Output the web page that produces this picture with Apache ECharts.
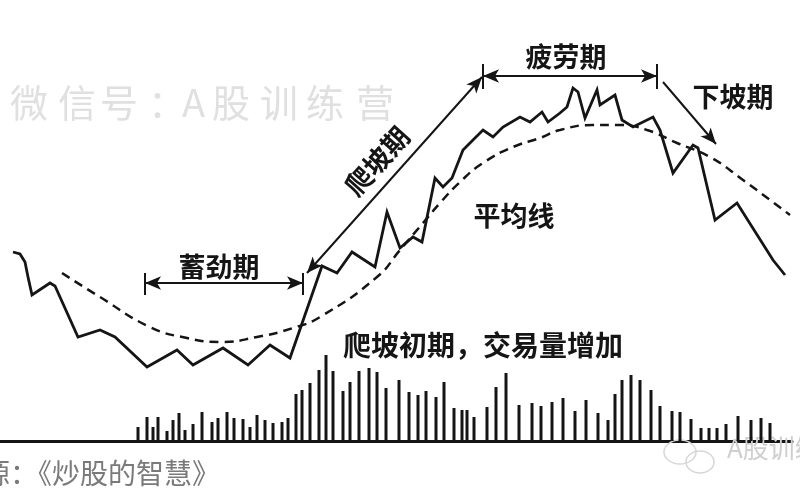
<!DOCTYPE html>
<html><head><meta charset="utf-8">
<script src="https://cdn.jsdelivr.net/npm/echarts@6/dist/echarts.min.js"></script>
<style>html,body{margin:0;padding:0;background:#fff}#c{width:800px;height:500px}</style>
</head><body><div id="c"></div>
<script>
// Price line (time, price level above baseline)
const priceT = [13,20,25,28,32,50,55,78,100,115,147,177,193,223,248,270,290,322,337,352,375,387,400,413,422,435,443,452,463,473,483,493,503,520,530,542,548,560,567,573,578,585,597,600,615,622,633,653,660,673,693,698,715,737,773,785];
const priceV = [189,187,179,164,146,158,155,104,111,104,74,91,76,93,76,96,83,175,168,189,174,229,193,204,199,263,254,263,291,301,311,304,314,324,319,329,319,328,334,353,349,323,351,336,346,321,314,324,311,268,296,293,221,238,181,166];
// Moving average (dashed)
const maT = [62,100,150,187,220,257,293,320,377,400,423,440,460,483,513,540,560,593,620,647,677,710,743,790];
const maV = [168,144,114,103,99,104,113,124,164,191,218,238,259,278,294,303,311,316,316,311,298,284,261,226];
// Volume bars
const volT = [138,147,153,158,167,173,179,185,193,202,212,218,227,234,243,250,257,265,273,282,288,296,302,310,319,326,333,343,350,359,369,377,386,399,409,418,426,436,444,454,462,467,474,487,496,506,519,532,541,552,563,575,586,598,608,615,622,631,640,651,660,672,680,691,701,709,717,726,738,751,761,770];
const volV = [14,24,14,24,10,21,28,11,17,29,19,23,29,23,22,14,26,21,18,19,23,47,51,58,71,86,70,50,59,70,73,69,53,61,49,46,50,44,59,33,31,31,24,34,54,68,36,38,35,39,43,30,41,28,21,47,61,66,61,51,35,30,29,22,13,13,13,17,25,21,23,18];
// Labels
const phaseLabels = ['蓄劲期','爬坡期','疲劳期','下坡期'];
const maLabel = '平均线';
const volLabel = '爬坡初期，交易量增加';
const watermark = ['微','信','号','：','A','股','训','练','营'];
const sourceText = '源：《炒股的智慧》';
const logoText = 'A股训练营';

const INK = '#151515';
const chart = echarts.init(document.getElementById('c'));
const zip = (a, b) => a.map((v, i) => [v, b[i]]);

const wmX = [10,58,100,148,182,212,260,306,356];
const graphics = [];
watermark.forEach((ch, i) => graphics.push({
  type: 'text', left: wmX[i], top: 84, z: 0,
  style: { text: ch, fill: '#e0e0e0', font: '38px "Noto Sans CJK SC"' }
}));
const boldFont = 'bold 27px "Noto Sans CJK SC"';
graphics.push(
  { type: 'text', x: 219, y: 267, z: 10, style: { text: phaseLabels[0], fill: INK, font: boldFont, align: 'center', verticalAlign: 'middle' } },
  { type: 'text', x: 377, y: 161, rotation: 0.84, z: 10, style: { text: phaseLabels[1], fill: INK, font: boldFont, align: 'center', verticalAlign: 'middle' } },
  { type: 'text', x: 566, y: 57, z: 10, style: { text: phaseLabels[2], fill: INK, font: boldFont, align: 'center', verticalAlign: 'middle' } },
  { type: 'text', x: 733, y: 97, z: 10, style: { text: phaseLabels[3], fill: INK, font: boldFont, align: 'center', verticalAlign: 'middle' } },
  { type: 'text', x: 514, y: 216, z: 10, style: { text: maLabel, fill: INK, font: boldFont, align: 'center', verticalAlign: 'middle' } },
  { type: 'text', x: 483, y: 345, z: 10, style: { text: volLabel, fill: INK, font: 'bold 28px "Noto Sans CJK SC"', align: 'center', verticalAlign: 'middle' } },
  { type: 'text', left: -18, top: 459, z: 10, style: { text: sourceText, fill: '#7a7a7a', font: '28px "Noto Sans CJK SC"' } },
  { type: 'text', left: 727, top: 435, z: 1, style: { text: logoText, fill: '#cfcfcf', font: '26px "Noto Sans CJK SC"' } },
  { type: 'ellipse', shape: { cx: 680, cy: 452, rx: 16, ry: 12 }, z: 1, style: { fill: 'none', stroke: '#d6d6d6', lineWidth: 1.5 } },
  { type: 'ellipse', shape: { cx: 700, cy: 462, rx: 14, ry: 11 }, z: 1, style: { fill: 'none', stroke: '#d6d6d6', lineWidth: 1.5 } }
);

const arrowLines = [
  // 蓄劲期
  [{ coord: [145, 158], symbol: 'arrow' }, { coord: [303, 158], symbol: 'arrow' }],
  [{ coord: [145, 168] }, { coord: [145, 146] }],
  [{ coord: [303, 168] }, { coord: [303, 146] }],
  // 爬坡期
  [{ coord: [307, 168], symbol: 'arrow' }, { coord: [482, 364], symbol: 'arrow' }],
  // 疲劳期
  [{ coord: [483, 365], symbol: 'arrow' }, { coord: [657, 365], symbol: 'arrow' }],
  [{ coord: [483, 377] }, { coord: [483, 352] }],
  [{ coord: [657, 377] }, { coord: [657, 352] }],
  // 下坡期
  [{ coord: [663, 359] }, { coord: [716, 297], symbol: 'arrow' }]
];

chart.setOption({
  backgroundColor: '#ffffff',
  animation: false,
  grid: { left: 0, right: 8, top: 0, bottom: 59 },
  xAxis: {
    type: 'value', min: 0, max: 792,
    axisLine: { show: true, lineStyle: { color: INK, width: 3 } },
    axisTick: { show: false }, axisLabel: { show: false }, splitLine: { show: false }
  },
  yAxis: {
    type: 'value', min: 0, max: 441, show: false, splitLine: { show: false }
  },
  graphic: graphics,
  series: [
    {
      type: 'bar', data: zip(volT, volV), barWidth: 3, z: 3,
      itemStyle: { color: INK }, silent: true
    },
    {
      type: 'line', data: zip(priceT, priceV), symbol: 'none', z: 5,
      lineStyle: { color: INK, width: 2.8, join: 'miter' }, silent: true
    },
    {
      type: 'line', data: zip(maT, maV), symbol: 'none', smooth: 0.5, z: 4,
      lineStyle: { color: INK, width: 2.5, type: [9, 6] }, silent: true,
      markLine: {
        silent: true, symbol: ['none', 'none'], symbolSize: [10, 16],
        label: { show: false },
        lineStyle: { color: INK, width: 2, type: 'solid' },
        emphasis: { disabled: true },
        data: arrowLines
      }
    }
  ]
});
</script>
</body></html>
